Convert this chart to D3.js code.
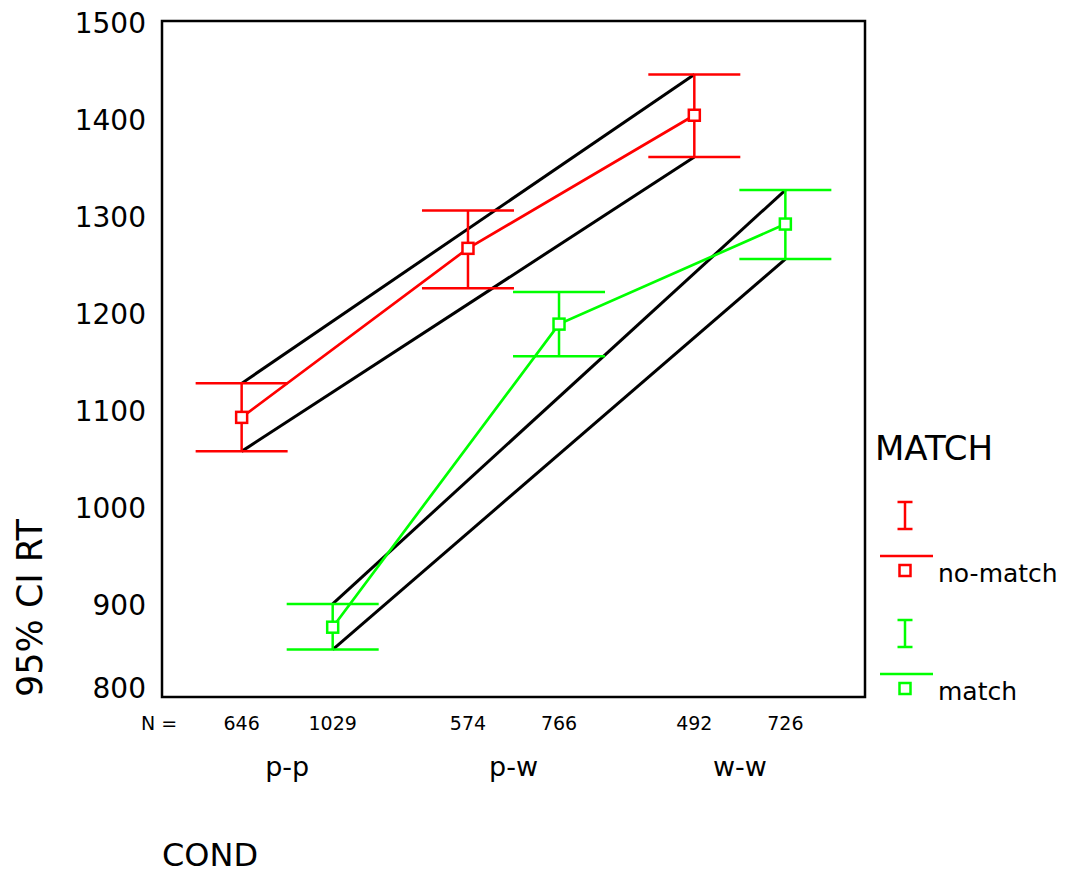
<!DOCTYPE html>
<html>
<head>
    <title>95% CI RT by COND and MATCH</title>
    <script src="https://d3js.org/d3.v7.min.js"></script>
    <style>
        body { margin: 0; background: white; }
        text { font-family: "DejaVu Sans", Verdana, sans-serif; fill: #000; }
    </style>
</head>
<body>
    <div id="chart"></div>

    <script>
        // Data
        const categories = ["p-p", "p-w", "w-w"];
        const groups = ["no-match", "match"];

        const noMatchMean  = [1093, 1267, 1404];
        const noMatchLower = [1058, 1226, 1361];
        const noMatchUpper = [1128, 1306, 1446];
        const noMatchN     = [646, 574, 492];

        const matchMean  = [877, 1189, 1292];
        const matchLower = [854, 1156, 1256];
        const matchUpper = [901, 1222, 1327];
        const matchN     = [1029, 766, 726];

        const yTicks = [800, 900, 1000, 1100, 1200, 1300, 1400, 1500];

        // Layout
        const config = {
            width: 1065,
            height: 874,
            plot: { left: 162, top: 21, right: 865, bottom: 697 },
            colors: { "no-match": "#ff0000", "match": "#00ff00" },
            capHalf: 46,
            markerSize: 11
        };

        const series = [
            { group: "no-match", mean: noMatchMean, lower: noMatchLower, upper: noMatchUpper, n: noMatchN },
            { group: "match", mean: matchMean, lower: matchLower, upper: matchUpper, n: matchN }
        ];

        const p = config.plot;

        const svg = d3.select("#chart")
            .append("svg")
            .attr("width", config.width)
            .attr("height", config.height);

        // Scales
        const xScale = d3.scaleBand()
            .domain(categories)
            .range([p.left, p.right])
            .paddingInner(0)
            .paddingOuter(0.053);

        const xSub = d3.scalePoint()
            .domain(groups)
            .range([0, xScale.bandwidth()])
            .padding(0.743);

        const yScale = d3.scaleLinear()
            .domain([800, 1500])
            .range([p.bottom + 5, p.top + 1]);

        const xPos = (cat, group) => xScale(cat) + xSub(group);

        // Frame
        svg.append("rect")
            .attr("x", p.left)
            .attr("y", p.top)
            .attr("width", p.right - p.left)
            .attr("height", p.bottom - p.top)
            .attr("fill", "none")
            .attr("stroke", "#000")
            .attr("stroke-width", 2.5);

        // Y axis labels (no ticks, no domain line)
        const yAxis = svg.append("g")
            .attr("transform", `translate(${p.left - 16},0)`)
            .call(d3.axisLeft(yScale)
                .tickValues(yTicks)
                .tickFormat(d3.format("d"))
                .tickSize(0)
                .tickPadding(0));
        yAxis.select(".domain").remove();
        yAxis.selectAll("text")
            .attr("dy", "0.36em")
            .style("font-family", "'DejaVu Sans', Verdana, sans-serif")
            .style("font-size", "28px")
            .attr("fill", "#000");
        // the lowest label is kept inside the frame
        yAxis.selectAll(".tick")
            .filter(d => d === 800)
            .attr("transform", `translate(0,${p.bottom - 9})`);

        // Black lines joining first and last CI bounds of each series
        series.forEach(s => {
            const first = categories[0], last = categories[categories.length - 1];
            [s.upper, s.lower].forEach(bound => {
                svg.append("line")
                    .attr("x1", xPos(first, s.group))
                    .attr("y1", yScale(bound[0]))
                    .attr("x2", xPos(last, s.group))
                    .attr("y2", yScale(bound[bound.length - 1]))
                    .attr("stroke", "#000")
                    .attr("stroke-width", 3);
            });
        });

        // Error bars, mean lines and markers
        const lineGenerator = d3.line()
            .x(d => d.x)
            .y(d => yScale(d.v));

        series.forEach(s => {
            const color = config.colors[s.group];
            const pts = categories.map((c, i) => ({
                x: xPos(c, s.group), v: s.mean[i], lo: s.lower[i], hi: s.upper[i]
            }));
            const g = svg.append("g").attr("class", "series");

            g.selectAll(".bar")
                .data(pts)
                .enter()
                .append("line")
                .attr("x1", d => d.x).attr("x2", d => d.x)
                .attr("y1", d => yScale(d.lo)).attr("y2", d => yScale(d.hi))
                .attr("stroke", color).attr("stroke-width", 2.5);

            ["lo", "hi"].forEach(k => {
                g.selectAll(".cap-" + k)
                    .data(pts)
                    .enter()
                    .append("line")
                    .attr("x1", d => d.x - config.capHalf).attr("x2", d => d.x + config.capHalf)
                    .attr("y1", d => yScale(d[k])).attr("y2", d => yScale(d[k]))
                    .attr("stroke", color).attr("stroke-width", 2.5);
            });

            g.append("path")
                .attr("d", lineGenerator(pts))
                .attr("fill", "none")
                .attr("stroke", color)
                .attr("stroke-width", 2.7);

            g.selectAll(".marker")
                .data(pts)
                .enter()
                .append("rect")
                .attr("x", d => d.x - config.markerSize / 2)
                .attr("y", d => yScale(d.v) - config.markerSize / 2)
                .attr("width", config.markerSize)
                .attr("height", config.markerSize)
                .attr("fill", "white")
                .attr("stroke", color)
                .attr("stroke-width", 2.5);
        });

        // N counts under the frame
        svg.append("text")
            .attr("x", p.left - 21)
            .attr("y", 730)
            .style("font-size", "19px")
            .text("N =");

        series.forEach(s => {
            svg.selectAll(".n-" + s.group)
                .data(categories)
                .enter()
                .append("text")
                .attr("x", c => xPos(c, s.group))
                .attr("y", 730)
                .attr("text-anchor", "middle")
                .style("font-size", "19px")
                .text((c, i) => s.n[i]);
        });

        // Category labels
        svg.selectAll(".cat")
            .data(categories)
            .enter()
            .append("text")
            .attr("x", c => xScale(c) + xScale.bandwidth() / 2)
            .attr("y", 776)
            .attr("text-anchor", "middle")
            .style("font-size", "27px")
            .text(c => c);

        // Axis titles
        svg.append("text")
            .attr("x", p.left)
            .attr("y", 866)
            .style("font-size", "32px")
            .text("COND");

        svg.append("text")
            .attr("transform", `translate(42,608) rotate(-90)`)
            .attr("text-anchor", "middle")
            .style("font-size", "35px")
            .text("95% CI RT");

        // Legend
        const legend = svg.append("g").attr("transform", "translate(875,0)");
        legend.append("text")
            .attr("x", 0)
            .attr("y", 460)
            .style("font-size", "34px")
            .text("MATCH");

        const legendTop = [502, 620];
        groups.forEach((grp, i) => {
            const color = config.colors[grp];
            const t = legendTop[i];
            const cx = 30;
            legend.append("line")
                .attr("x1", cx).attr("x2", cx).attr("y1", t).attr("y2", t + 27)
                .attr("stroke", color).attr("stroke-width", 2.5);
            [t, t + 27].forEach(yy => {
                legend.append("line")
                    .attr("x1", cx - 7.5).attr("x2", cx + 7.5).attr("y1", yy).attr("y2", yy)
                    .attr("stroke", color).attr("stroke-width", 2.5);
            });
            legend.append("line")
                .attr("x1", 5).attr("x2", 58).attr("y1", t + 54).attr("y2", t + 54)
                .attr("stroke", color).attr("stroke-width", 2.5);
            legend.append("rect")
                .attr("x", cx - 5.5).attr("y", t + 63)
                .attr("width", 11).attr("height", 11)
                .attr("fill", "white")
                .attr("stroke", color).attr("stroke-width", 2.5);
            legend.append("text")
                .attr("x", 63)
                .attr("y", t + 80)
                .style("font-size", "25px")
                .text(grp);
        });
    </script>
</body>
</html>
